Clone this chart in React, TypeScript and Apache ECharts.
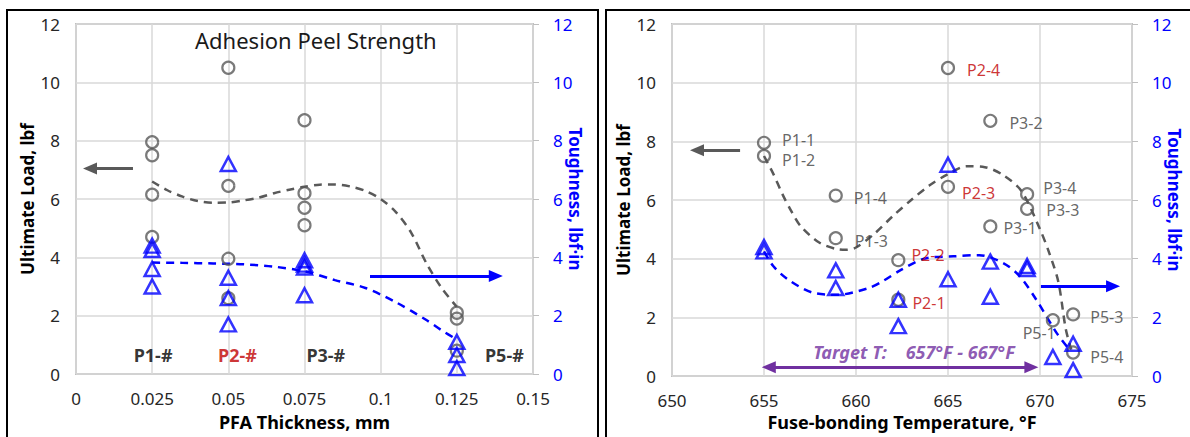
import React, { useEffect, useRef } from "react";
import * as echarts from "echarts";

// ---------- Left panel: PFA thickness ----------
const thickLoadX = [0.025, 0.025, 0.025, 0.025, 0.05, 0.05, 0.05, 0.05, 0.075, 0.075, 0.075, 0.075, 0.125, 0.125, 0.125];
const thickLoadY = [7.95, 7.5, 6.15, 4.7, 10.5, 6.45, 3.95, 2.6, 8.7, 6.2, 5.7, 5.1, 2.1, 1.9, 0.8];
const thickToughX = [0.025, 0.025, 0.025, 0.025, 0.05, 0.05, 0.05, 0.05, 0.075, 0.075, 0.075, 0.075, 0.125, 0.125, 0.125];
const thickToughY = [4.4, 4.25, 3.6, 3.0, 7.2, 3.3, 2.6, 1.7, 3.9, 3.75, 3.65, 2.7, 1.1, 0.65, 0.2];

const thickLoadTrendX = [0.025, 0.03, 0.035, 0.04, 0.045, 0.05, 0.055, 0.06, 0.065, 0.07, 0.075, 0.08, 0.085, 0.09, 0.095, 0.1, 0.105, 0.11, 0.115, 0.12, 0.125];
const thickLoadTrendY = [6.6, 6.3, 6.08, 5.93, 5.87, 5.88, 5.95, 6.05, 6.2, 6.32, 6.42, 6.49, 6.5, 6.43, 6.28, 6.0, 5.55, 4.85, 3.8, 2.95, 2.3];
const thickToughTrendX = [0.025, 0.035, 0.045, 0.055, 0.065, 0.075, 0.085, 0.095, 0.105, 0.115, 0.12, 0.125];
const thickToughTrendY = [3.82, 3.81, 3.79, 3.76, 3.68, 3.52, 3.22, 2.95, 2.46, 1.85, 1.5, 1.18];

const thickTagX = [0.0253, 0.053, 0.082, 0.1406];
const thickTagY = [0.65, 0.65, 0.65, 0.65];
const thickTagText = ["P1-#", "P2-#", "P3-#", "P5-#"];

// ---------- Right panel: fuse-bonding temperature ----------
const tempLoadNames = ["P1-1", "P1-2", "P1-4", "P1-3", "P2-4", "P2-3", "P2-2", "P2-1", "P3-2", "P3-4", "P3-3", "P3-1", "P5-1", "P5-3", "P5-4"];
const tempLoadX = [655, 655, 658.9, 658.9, 665, 665, 662.3, 662.3, 667.3, 669.3, 669.3, 667.3, 670.7, 671.8, 671.8];
const tempLoadY = [7.95, 7.5, 6.15, 4.7, 10.5, 6.45, 3.95, 2.6, 8.7, 6.2, 5.7, 5.1, 1.9, 2.1, 0.8];
const tempToughX = [655, 655, 658.9, 658.9, 662.3, 662.3, 665, 665, 667.3, 667.3, 669.3, 669.3, 670.7, 671.8, 671.8];
const tempToughY = [4.4, 4.25, 3.6, 3.0, 2.6, 1.7, 7.2, 3.3, 3.9, 2.7, 3.75, 3.65, 0.65, 1.1, 0.2];

const tempLoadTrendX = [655, 655.5, 656, 656.5, 657, 658, 659, 659.5, 660, 661, 662, 663, 664, 665, 666, 667, 668, 669, 670, 670.5, 671, 671.4, 671.7];
const tempLoadTrendY = [7.5, 6.9, 6.2, 5.6, 5.1, 4.55, 4.32, 4.3, 4.38, 4.85, 5.45, 6.0, 6.5, 6.88, 7.15, 7.12, 6.85, 6.3, 5.0, 4.2, 3.2, 1.6, 0.9];
const tempToughTrendX = [655, 655.5, 656.3, 657.6, 659, 660.7, 661.5, 662.4, 663.7, 665.3, 666.7, 668, 668.9, 669.8, 670.9, 671.6];
const tempToughTrendY = [4.25, 3.75, 3.29, 2.85, 2.77, 3.0, 3.25, 3.6, 4.0, 4.08, 4.12, 3.85, 3.4, 2.6, 1.47, 0.9];

const targetText = "Target T:    657°F - 667°F";
const targetTextX = 663.15;
const targetTextY = 0.81;

// ---------- styles ----------
const FONT = "'Noto Sans', sans-serif";
const GREY = "#595959";
const BLUE = "#0000FF";
const RED = "#C00000";
const PURPLE = "#7030A0";
const TICK = "#262626";

const labelPlace: Record<string, { pos: string; off: [number, number] }> = {
  "P1-1": { pos: "right", off: [11, -3] },
  "P1-2": { pos: "right", off: [11, 4] },
  "P1-4": { pos: "right", off: [11, 2] },
  "P1-3": { pos: "right", off: [12, 3] },
  "P2-4": { pos: "right", off: [12, 2] },
  "P2-3": { pos: "right", off: [7, 6] },
  "P2-2": { pos: "right", off: [6, -5] },
  "P2-1": { pos: "right", off: [7, 3] },
  "P3-2": { pos: "right", off: [12, 2] },
  "P3-4": { pos: "right", off: [9, -6] },
  "P3-3": { pos: "right", off: [12, 1] },
  "P3-1": { pos: "right", off: [6, 2] },
  "P5-1": { pos: "left", off: [10, 13] },
  "P5-3": { pos: "right", off: [10, 3] },
  "P5-4": { pos: "right", off: [10, 4] },
};

const zip = (xs: number[], ys: number[]) => xs.map((x, i) => [x, ys[i]]);

const yAxisBase = (gridIndex: number, side: "left" | "right") => ({
  type: "value",
  gridIndex,
  position: side,
  min: 0,
  max: 12,
  interval: 2,
  name: side === "left" ? "Ultimate Load, lbf" : "Toughness, lbf·in",
  nameLocation: "middle",
  nameRotate: side === "left" ? 90 : -90,
  nameGap: side === "left" ? 40 : 34,
  nameMoveOverlap: false,
  nameTextStyle: {
    fontFamily: FONT,
    fontSize: 17,
    fontWeight: "bold",
    color: side === "left" ? "#000" : BLUE,
  },
  axisLine: { show: false },
  axisTick: side === "right" ? { show: true, length: 6, lineStyle: { color: "#bfbfbf", width: 1 } } : { show: false },
  axisLabel: {
    fontFamily: FONT,
    fontSize: 17,
    color: side === "left" ? TICK : BLUE,
    margin: side === "left" ? 16 : 20,
  },
  splitLine: side === "left" ? { show: true, lineStyle: { color: "#d9d9d9", width: 1.5 } } : { show: false },
});

const circleStyle = { color: "rgba(0,0,0,0)", borderColor: GREY, borderWidth: 2.2 };
const triStyle = { color: "rgba(0,0,0,0)", borderColor: BLUE, borderWidth: 2.5 };

export default function App() {
  const ref = useRef<HTMLDivElement>(null);

  useEffect(() => {
    if (!ref.current) return;
    const chart = echarts.init(ref.current, null, { renderer: "svg" });

    const arrowLine = (from: number[], to: number[], color: string, both = false) => [
      { coord: from, symbol: both ? "triangle" : "none", symbolSize: [12, 14], lineStyle: { color, width: 3, type: "solid" } },
      { coord: to, symbol: "triangle", symbolSize: [12, 14] },
    ];

    const option: any = {
      animation: false,
      backgroundColor: "#fff",
      title: {
        text: "Adhesion Peel Strength",
        left: 190,
        top: 24,
        textStyle: { fontFamily: FONT, fontSize: 22, fontWeight: "normal", color: "#1a1a1a" },
      },
      graphic: [
        { type: "rect", shape: { x: 7, y: 10, width: 591, height: 460 }, style: { fill: "none", stroke: "#000", lineWidth: 2 }, silent: true },
        { type: "rect", shape: { x: 606, y: 10, width: 620, height: 460 }, style: { fill: "none", stroke: "#000", lineWidth: 2 }, silent: true },
      ],
      grid: [
        { left: 76, top: 24, width: 457, height: 350, show: true, borderColor: "#bfbfbf", borderWidth: 2, backgroundColor: "rgba(0,0,0,0)" },
        { left: 672, top: 24, width: 460, height: 352, show: true, borderColor: "#bfbfbf", borderWidth: 2, backgroundColor: "rgba(0,0,0,0)" },
      ],
      xAxis: [
        {
          type: "value",
          gridIndex: 0,
          min: 0,
          max: 0.15,
          interval: 0.025,
          name: "PFA Thickness, mm",
          nameLocation: "middle",
          nameGap: 39,
          nameMoveOverlap: false,
          nameTextStyle: { fontFamily: FONT, fontSize: 18, fontWeight: "bold", color: "#000" },
          axisLine: { show: false },
          axisTick: { show: false },
          axisLabel: {
            fontFamily: FONT,
            fontSize: 17,
            color: TICK,
            margin: 16,
            formatter: (v: number) => String(parseFloat(v.toFixed(3))),
          },
          splitLine: { show: true, lineStyle: { color: "#d9d9d9", width: 1.5 } },
        },
        {
          type: "value",
          gridIndex: 1,
          min: 650,
          max: 675,
          interval: 5,
          name: "Fuse-bonding Temperature, °F",
          nameLocation: "middle",
          nameGap: 37,
          nameMoveOverlap: false,
          nameTextStyle: { fontFamily: FONT, fontSize: 18, fontWeight: "bold", color: "#000" },
          axisLine: { show: false },
          axisTick: { show: false },
          axisLabel: { fontFamily: FONT, fontSize: 17, color: TICK, margin: 16 },
          splitLine: { show: true, lineStyle: { color: "#d9d9d9", width: 1.5 } },
        },
      ],
      yAxis: [yAxisBase(0, "left"), yAxisBase(0, "right"), yAxisBase(1, "left"), yAxisBase(1, "right")],
      series: [
        // ----- left panel -----
        {
          type: "line",
          xAxisIndex: 0,
          yAxisIndex: 0,
          data: zip(thickLoadTrendX, thickLoadTrendY),
          smooth: 0.3,
          showSymbol: false,
          lineStyle: { color: GREY, width: 2.5, type: [8, 6] },
          z: 2,
          silent: true,
        },
        {
          type: "line",
          xAxisIndex: 0,
          yAxisIndex: 1,
          data: zip(thickToughTrendX, thickToughTrendY),
          smooth: 0.3,
          showSymbol: false,
          lineStyle: { color: BLUE, width: 2.5, type: [8, 6] },
          z: 2,
          silent: true,
        },
        {
          type: "scatter",
          xAxisIndex: 0,
          yAxisIndex: 0,
          data: zip(thickLoadX, thickLoadY),
          symbol: "circle",
          symbolSize: 12,
          itemStyle: circleStyle,
          z: 3,
        },
        {
          type: "scatter",
          xAxisIndex: 0,
          yAxisIndex: 1,
          data: zip(thickToughX, thickToughY),
          symbol: "triangle",
          symbolSize: [15, 14],
          itemStyle: triStyle,
          z: 4,
        },
        {
          type: "scatter",
          xAxisIndex: 0,
          yAxisIndex: 0,
          symbolSize: 0,
          data: thickTagX.map((x, i) => ({
            value: [x, thickTagY[i]],
            label: {
              show: true,
              position: "inside",
              formatter: thickTagText[i],
              fontFamily: FONT,
              fontSize: 18,
              fontWeight: "bold",
              color: i === 1 ? RED : "#000",
            },
          })),
          markLine: {
            silent: true,
            animation: false,
            label: { show: false },
            data: [
              arrowLine([0.0187, 7.05], [0.0046, 7.05], GREY),
              arrowLine([0.0965, 3.36], [0.1378, 3.36], BLUE),
            ],
          },
          z: 5,
        },
        // ----- right panel -----
        {
          type: "line",
          xAxisIndex: 1,
          yAxisIndex: 2,
          data: zip(tempLoadTrendX, tempLoadTrendY),
          smooth: 0.3,
          showSymbol: false,
          lineStyle: { color: GREY, width: 2.5, type: [8, 6] },
          z: 2,
          silent: true,
        },
        {
          type: "line",
          xAxisIndex: 1,
          yAxisIndex: 3,
          data: zip(tempToughTrendX, tempToughTrendY),
          smooth: 0.3,
          showSymbol: false,
          lineStyle: { color: BLUE, width: 2.5, type: [8, 6] },
          z: 2,
          silent: true,
        },
        {
          type: "scatter",
          xAxisIndex: 1,
          yAxisIndex: 2,
          symbol: "circle",
          symbolSize: 12,
          itemStyle: circleStyle,
          data: tempLoadNames.map((n, i) => {
            const p = labelPlace[n];
            return {
              value: [tempLoadX[i], tempLoadY[i]],
              label: {
                show: true,
                formatter: n,
                position: p.pos,
                distance: 0,
                offset: p.off,
                fontFamily: FONT,
                fontSize: 16,
                color: n.startsWith("P2") ? RED : "#404040",
              },
            };
          }),
          z: 3,
        },
        {
          type: "scatter",
          xAxisIndex: 1,
          yAxisIndex: 3,
          data: zip(tempToughX, tempToughY),
          symbol: "triangle",
          symbolSize: [15, 14],
          itemStyle: triStyle,
          z: 4,
        },
        {
          type: "scatter",
          xAxisIndex: 1,
          yAxisIndex: 2,
          symbolSize: 0,
          data: [
            {
              value: [targetTextX, targetTextY],
              label: {
                show: true,
                position: "inside",
                formatter: targetText,
                fontFamily: FONT,
                fontSize: 18,
                fontWeight: "bold",
                fontStyle: "italic",
                color: PURPLE,
              },
            },
          ],
          markLine: {
            silent: true,
            animation: false,
            label: { show: false },
            data: [
              arrowLine([653.7, 7.7], [651.36, 7.7], GREY),
              arrowLine([670.05, 3.06], [673.97, 3.06], BLUE),
              arrowLine([655.26, 0.3], [669.53, 0.3], PURPLE, true),
            ],
          },
          z: 5,
        },
      ],
    };

    chart.setOption(option);
    return () => chart.dispose();
  }, []);

  return (
    <div
      ref={ref}
      style={{ position: "fixed", left: 0, top: 0, width: 1190, height: 437, background: "#fff" }}
    />
  );
}
